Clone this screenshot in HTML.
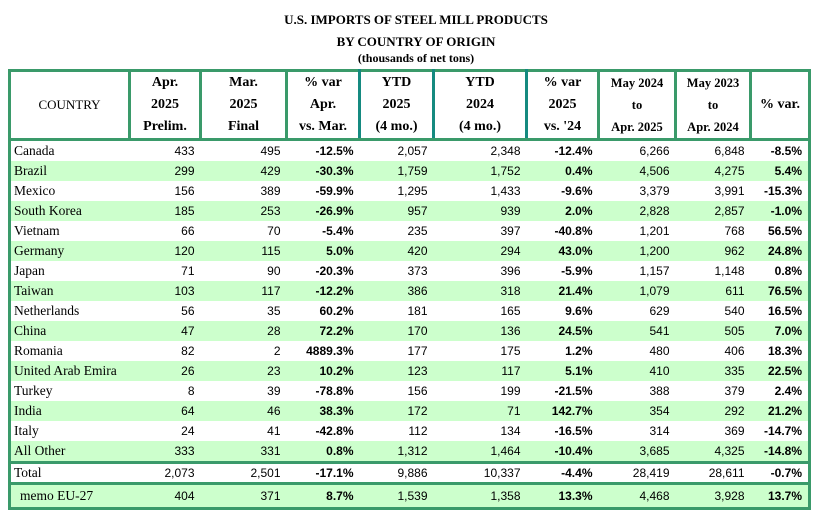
<!DOCTYPE html>
<html><head><meta charset="utf-8"><style>
body{margin:0;background:#fff;width:832px;height:521px;overflow:hidden;position:relative}
.t{position:absolute;left:0;width:832px;text-align:center;font-family:"Liberation Serif",serif;font-weight:bold;color:#000}
table{position:absolute;left:8px;top:69px;border-collapse:collapse;table-layout:fixed;width:800px}
td,th{padding:0;overflow:hidden;white-space:nowrap}
th{font-family:"Liberation Serif",serif;font-size:14px;font-weight:bold;line-height:22px;border:3px solid #3a9a6a;height:60px;text-align:center}
th.c{font-weight:normal;font-size:13px}
th.tl{border-left-color:#158a80}
th.tr{border-right-color:#158a80}
th.s{font-size:12.5px}
td{font-family:"Liberation Sans",sans-serif;font-size:12px;height:20px;text-align:right;padding-right:6px}
td:first-child{font-family:"Liberation Serif",serif;font-size:13.5px;text-align:left;padding-left:3px;border-left:3px solid #3a9a6a}
td:last-child{border-right:3px solid #3a9a6a}
td.b{font-weight:bold}
tr.g td{background:#ccffcc}
tr.tot td{border-top:3px solid #3a9a6a;border-bottom:3px solid #3a9a6a;height:18px}
tr.memo td{height:22px;border-bottom:3px solid #3a9a6a}
tr.memo td:first-child{padding-left:9px}
</style></head><body>
<div class="t" style="top:12px;font-size:13px">U.S. IMPORTS OF STEEL MILL PRODUCTS</div>
<div class="t" style="top:34px;font-size:13px">BY COUNTRY OF ORIGIN</div>
<div class="t" style="top:51px;font-size:12px">(thousands of net tons)</div>
<table>
<colgroup><col style="width:120px"><col style="width:71px"><col style="width:86px"><col style="width:73px"><col style="width:74px"><col style="width:93px"><col style="width:72px"><col style="width:77px"><col style="width:75px"><col style="width:59px"></colgroup>
<tr><th class="c">COUNTRY</th><th>Apr.<br>2025<br>Prelim.</th><th>Mar.<br>2025<br>Final</th><th class="tr">% var<br>Apr.<br>vs. Mar.</th><th class="tl tr">YTD<br>2025<br>(4 mo.)</th><th class="tl tr">YTD<br>2024<br>(4 mo.)</th><th class="tl">% var<br>2025<br>vs. '24</th><th class="s">May 2024<br>to<br>Apr. 2025</th><th class="s">May 2023<br>to<br>Apr. 2024</th><th>% var.</th></tr>
<tr><td>Canada</td><td>433</td><td>495</td><td class="b">-12.5%</td><td>2,057</td><td>2,348</td><td class="b">-12.4%</td><td>6,266</td><td>6,848</td><td class="b">-8.5%</td></tr>
<tr class="g"><td>Brazil</td><td>299</td><td>429</td><td class="b">-30.3%</td><td>1,759</td><td>1,752</td><td class="b">0.4%</td><td>4,506</td><td>4,275</td><td class="b">5.4%</td></tr>
<tr><td>Mexico</td><td>156</td><td>389</td><td class="b">-59.9%</td><td>1,295</td><td>1,433</td><td class="b">-9.6%</td><td>3,379</td><td>3,991</td><td class="b">-15.3%</td></tr>
<tr class="g"><td>South Korea</td><td>185</td><td>253</td><td class="b">-26.9%</td><td>957</td><td>939</td><td class="b">2.0%</td><td>2,828</td><td>2,857</td><td class="b">-1.0%</td></tr>
<tr><td>Vietnam</td><td>66</td><td>70</td><td class="b">-5.4%</td><td>235</td><td>397</td><td class="b">-40.8%</td><td>1,201</td><td>768</td><td class="b">56.5%</td></tr>
<tr class="g"><td>Germany</td><td>120</td><td>115</td><td class="b">5.0%</td><td>420</td><td>294</td><td class="b">43.0%</td><td>1,200</td><td>962</td><td class="b">24.8%</td></tr>
<tr><td>Japan</td><td>71</td><td>90</td><td class="b">-20.3%</td><td>373</td><td>396</td><td class="b">-5.9%</td><td>1,157</td><td>1,148</td><td class="b">0.8%</td></tr>
<tr class="g"><td>Taiwan</td><td>103</td><td>117</td><td class="b">-12.2%</td><td>386</td><td>318</td><td class="b">21.4%</td><td>1,079</td><td>611</td><td class="b">76.5%</td></tr>
<tr><td>Netherlands</td><td>56</td><td>35</td><td class="b">60.2%</td><td>181</td><td>165</td><td class="b">9.6%</td><td>629</td><td>540</td><td class="b">16.5%</td></tr>
<tr class="g"><td>China</td><td>47</td><td>28</td><td class="b">72.2%</td><td>170</td><td>136</td><td class="b">24.5%</td><td>541</td><td>505</td><td class="b">7.0%</td></tr>
<tr><td>Romania</td><td>82</td><td>2</td><td class="b">4889.3%</td><td>177</td><td>175</td><td class="b">1.2%</td><td>480</td><td>406</td><td class="b">18.3%</td></tr>
<tr class="g"><td>United Arab Emira</td><td>26</td><td>23</td><td class="b">10.2%</td><td>123</td><td>117</td><td class="b">5.1%</td><td>410</td><td>335</td><td class="b">22.5%</td></tr>
<tr><td>Turkey</td><td>8</td><td>39</td><td class="b">-78.8%</td><td>156</td><td>199</td><td class="b">-21.5%</td><td>388</td><td>379</td><td class="b">2.4%</td></tr>
<tr class="g"><td>India</td><td>64</td><td>46</td><td class="b">38.3%</td><td>172</td><td>71</td><td class="b">142.7%</td><td>354</td><td>292</td><td class="b">21.2%</td></tr>
<tr><td>Italy</td><td>24</td><td>41</td><td class="b">-42.8%</td><td>112</td><td>134</td><td class="b">-16.5%</td><td>314</td><td>369</td><td class="b">-14.7%</td></tr>
<tr class="g"><td>All Other</td><td>333</td><td>331</td><td class="b">0.8%</td><td>1,312</td><td>1,464</td><td class="b">-10.4%</td><td>3,685</td><td>4,325</td><td class="b">-14.8%</td></tr>
<tr class="tot"><td>Total</td><td>2,073</td><td>2,501</td><td class="b">-17.1%</td><td>9,886</td><td>10,337</td><td class="b">-4.4%</td><td>28,419</td><td>28,611</td><td class="b">-0.7%</td></tr>
<tr class="g memo"><td>memo EU-27</td><td>404</td><td>371</td><td class="b">8.7%</td><td>1,539</td><td>1,358</td><td class="b">13.3%</td><td>4,468</td><td>3,928</td><td class="b">13.7%</td></tr>
</table>
</body></html>
